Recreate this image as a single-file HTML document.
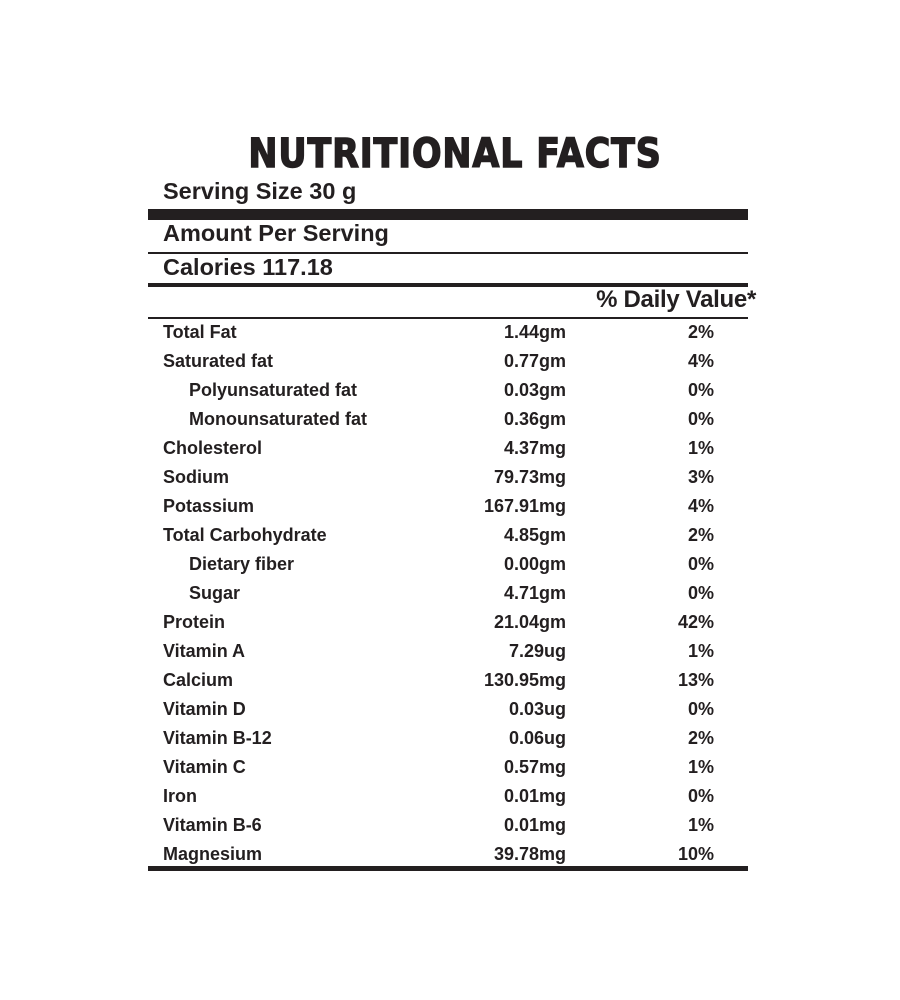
<!DOCTYPE html>
<html><head><style>
body{margin:0;background:#fff;width:900px;height:1000px;position:relative;font-family:"Liberation Sans",Arial,sans-serif;color:#231f20;overflow:hidden}
.a{position:absolute;white-space:nowrap;font-weight:bold}
.bar{position:absolute;left:148px;width:600px;background:#231f20}
.r{position:absolute;left:0;width:900px;height:29px;font-size:18px;font-weight:bold;line-height:29px}
.r span{position:absolute}
.n{left:163px}.i{left:189px}
.v{right:334px}.p{right:186px}
</style></head><body>
<div class="a" style="left:0;width:910px;text-align:center;top:131px;font-size:40px;font-family:'DejaVu Sans',sans-serif;font-weight:900;letter-spacing:1px;transform:scaleX(0.87);transform-origin:455px 0;-webkit-text-stroke:1.5px #231f20">NUTRITIONAL FACTS</div>
<div class="a" style="left:163px;top:178px;font-size:23.5px">Serving Size 30 g</div>
<div class="bar" style="top:209px;height:11px"></div>
<div class="a" style="left:163px;top:220px;font-size:23.5px">Amount Per Serving</div>
<div class="bar" style="top:252px;height:2px"></div>
<div class="a" style="left:163px;top:254px;font-size:23.5px">Calories 117.18</div>
<div class="bar" style="top:283px;height:4px"></div>
<div class="a" style="right:144px;top:286px;font-size:24px;letter-spacing:-0.3px">% Daily Value*</div>
<div class="bar" style="top:317px;height:2px"></div>
<div class="r" style="top:318px"><span class="n">Total Fat</span><span class="v">1.44gm</span><span class="p">2%</span></div>
<div class="r" style="top:347px"><span class="n">Saturated fat</span><span class="v">0.77gm</span><span class="p">4%</span></div>
<div class="r" style="top:376px"><span class="i">Polyunsaturated fat</span><span class="v">0.03gm</span><span class="p">0%</span></div>
<div class="r" style="top:405px"><span class="i">Monounsaturated fat</span><span class="v">0.36gm</span><span class="p">0%</span></div>
<div class="r" style="top:434px"><span class="n">Cholesterol</span><span class="v">4.37mg</span><span class="p">1%</span></div>
<div class="r" style="top:463px"><span class="n">Sodium</span><span class="v">79.73mg</span><span class="p">3%</span></div>
<div class="r" style="top:492px"><span class="n">Potassium</span><span class="v">167.91mg</span><span class="p">4%</span></div>
<div class="r" style="top:521px"><span class="n">Total Carbohydrate</span><span class="v">4.85gm</span><span class="p">2%</span></div>
<div class="r" style="top:550px"><span class="i">Dietary fiber</span><span class="v">0.00gm</span><span class="p">0%</span></div>
<div class="r" style="top:579px"><span class="i">Sugar</span><span class="v">4.71gm</span><span class="p">0%</span></div>
<div class="r" style="top:608px"><span class="n">Protein</span><span class="v">21.04gm</span><span class="p">42%</span></div>
<div class="r" style="top:637px"><span class="n">Vitamin A</span><span class="v">7.29ug</span><span class="p">1%</span></div>
<div class="r" style="top:666px"><span class="n">Calcium</span><span class="v">130.95mg</span><span class="p">13%</span></div>
<div class="r" style="top:695px"><span class="n">Vitamin D</span><span class="v">0.03ug</span><span class="p">0%</span></div>
<div class="r" style="top:724px"><span class="n">Vitamin B-12</span><span class="v">0.06ug</span><span class="p">2%</span></div>
<div class="r" style="top:753px"><span class="n">Vitamin C</span><span class="v">0.57mg</span><span class="p">1%</span></div>
<div class="r" style="top:782px"><span class="n">Iron</span><span class="v">0.01mg</span><span class="p">0%</span></div>
<div class="r" style="top:811px"><span class="n">Vitamin B-6</span><span class="v">0.01mg</span><span class="p">1%</span></div>
<div class="r" style="top:840px"><span class="n">Magnesium</span><span class="v">39.78mg</span><span class="p">10%</span></div>
<div class="bar" style="top:866px;height:5px"></div>
</body></html>
